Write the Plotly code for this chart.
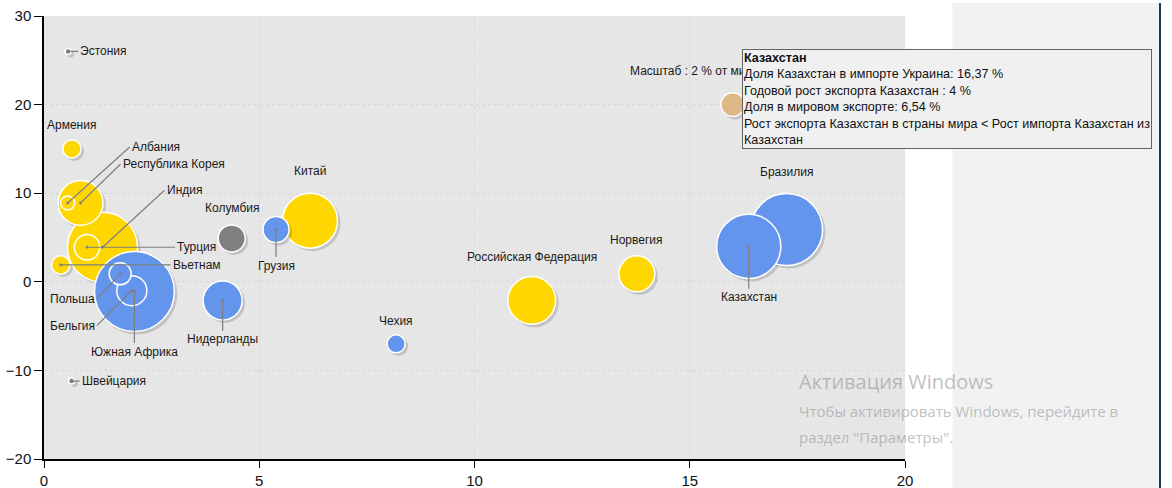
import plotly.graph_objects as go

# ---------------- data ----------------
countries = ["Эстония", "Армения", "Албания", "Республика Корея", "Индия", "Турция",
             "Вьетнам", "Польша", "Бельгия", "Южная Африка", "Колумбия", "Грузия",
             "Нидерланды", "Швейцария", "Китай", "Чехия", "Российская Федерация",
             "Норвегия", "Бразилия", "Казахстан"]
import_share = [0.56, 0.65, 0.55, 0.85, 1.36, 1.00, 0.39, 1.77, 2.04, 2.10, 4.36, 5.39,
                4.15, 0.64, 6.18, 8.18, 11.33, 13.77, 17.25, 16.37]
export_growth = [26.0, 15.0, 8.9, 8.9, 3.9, 3.9, 1.9, 0.9, -1.0, -1.1, 4.9, 5.9,
                 -2.1, -11.2, 6.9, -7.0, -2.1, 0.9, 5.9, 4.0]
world_share = [0.01, 1.35, 0.90, 4.36, 7.20, 2.18, 1.39, 1.80, 2.70, 8.30, 2.36, 2.25,
               3.70, 0.01, 5.50, 1.35, 4.70, 3.37, 7.40, 6.54]
group = ["g", "y", "y", "y", "y", "y", "y", "b", "b", "b", "g", "b",
         "b", "g", "y", "b", "y", "y", "b", "b"]

scale_x, scale_y, scale_value = 16.0, 20.0, 2.0
scale_label = "Масштаб : 2 % от мирового экспорта"

x_ticks = [0, 5, 10, 15, 20]
y_ticks = [-20, -10, 0, 10, 20, 30]

tooltip_lines = ["<b>Казахстан</b>",
                 "Доля Казахстан в импорте Украина: 16,37 %",
                 "Годовой рост экспорта Казахстан : 4 %",
                 "Доля в мировом экспорте: 6,54 %",
                 "Рост экспорта Казахстан в страны мира &lt; Рост импорта Казахстан из",
                 "Казахстан"]

# ---------------- styles ----------------
colors = {"y": "#FFD700", "b": "#6495ED", "g": "#808080"}
FONT = "Liberation Sans, Arial, sans-serif"
L, R_PX, T, B = 44, 905, 16, 459          # plot area in pixels
PW, PH = R_PX - L, B - T
X_RANGE, Y_RANGE = (0, 20), (-20, 30)
# drop-shadow offset (pixels converted to data units)
SH_DX = 2.5 * (X_RANGE[1] - X_RANGE[0]) / PW
SH_DY = -2.5 * (Y_RANGE[1] - Y_RANGE[0]) / PH


def px_x(p):
    return (p - L) / PW


def px_y(p):
    return (B - p) / PH


def bubble_diam(v):
    return 2 * (3 + 4.45 * v)


# label placement: (ax, ay, xanchor) for leader-line labels, or ("shift", yshift)
label_style = {
    "Эстония": (10, 0, "left"),
    "Армения": ("shift", 24),
    "Албания": (62, -56, "left"),
    "Республика Корея": (40, -39, "left"),
    "Индия": (62, -57, "left"),
    "Турция": (88, 0, "left"),
    "Вьетнам": (110, 0, "left"),
    "Польша": (-23, 25, "right"),
    "Бельгия": (-35, 35, "right"),
    "Южная Африка": (0, 60, "center"),
    "Колумбия": ("shift", 30),
    "Грузия": (0, 36, "center"),
    "Нидерланды": (0, 39, "center"),
    "Швейцария": (8, 0, "left"),
    "Китай": ("shift", 50),
    "Чехия": ("shift", 23),
    "Российская Федерация": ("shift", 43),
    "Норвегия": ("shift", 34),
    "Бразилия": ("shift", 58),
    "Казахстан": (0, 51, "center"),
}

fig = go.Figure()


def add_bubbles(xs, ys, sizes, color):
    fig.add_trace(go.Scatter(
        x=[v + SH_DX for v in xs], y=[v + SH_DY for v in ys], mode="markers",
        marker=dict(size=[bubble_diam(s) + 1 for s in sizes], sizemode="diameter",
                    color="rgba(0,0,0,0.22)", line=dict(width=0)),
        showlegend=False, hoverinfo="skip", cliponaxis=False))
    fig.add_trace(go.Scatter(
        x=xs, y=ys, mode="markers",
        marker=dict(size=[bubble_diam(s) for s in sizes], sizemode="diameter",
                    color=color, opacity=1, line=dict(color="white", width=1.5)),
        showlegend=False, hoverinfo="skip", cliponaxis=False))


for g in ["y", "b", "g"]:
    idx = [i for i in range(len(countries)) if group[i] == g]
    idx.sort(key=lambda i: -world_share[i])
    add_bubbles([import_share[i] for i in idx], [export_growth[i] for i in idx],
                [world_share[i] for i in idx], colors[g])

# scale bubble
add_bubbles([scale_x], [scale_y], [scale_value], "#DEB887")

annotations = []
for i, name in enumerate(countries):
    st = label_style[name]
    if st[0] == "shift":
        annotations.append(dict(x=import_share[i], y=export_growth[i], xref="x", yref="y",
                                text=name, showarrow=False, yshift=st[1],
                                font=dict(family=FONT, size=12, color="#1a1a1a")))
    else:
        ax, ay, xa = st
        annotations.append(dict(x=import_share[i], y=export_growth[i], xref="x", yref="y",
                                text=name, showarrow=True, ax=ax, ay=ay, xanchor=xa,
                                yanchor="middle", arrowhead=6, arrowsize=0.6,
                                arrowwidth=1.2, arrowcolor="#7f7f7f", standoff=0,
                                font=dict(family=FONT, size=12, color="#1a1a1a")))

annotations.append(dict(x=scale_x, y=scale_y, xref="x", yref="y", text=scale_label,
                        showarrow=False, yshift=34,
                        font=dict(family=FONT, size=12, color="#1a1a1a")))

# tooltip box
annotations.append(dict(x=px_x(742), y=px_y(49), xref="paper", yref="paper",
                        xanchor="left", yanchor="top", align="left",
                        text="<br>".join(tooltip_lines), showarrow=False,
                        bgcolor="#f0f0f0", bordercolor="#646464", borderwidth=1,
                        borderpad=1,
                        font=dict(family=FONT, size=12.6, color="#111111")))

# Windows watermark
wm = [("Активация Windows", 381, 20), ("Чтобы активировать Windows, перейдите в", 411, 15),
      ("раздел \"Параметры\".", 437, 15)]
for t, ypx, fs in wm:
    annotations.append(dict(x=px_x(797), y=px_y(ypx), xref="paper",
                            yref="paper", xanchor="left", yanchor="middle", text=t,
                            showarrow=False,
                            font=dict(family="Open Sans, Noto Sans, sans-serif", size=fs,
                                      color="rgba(150,150,150,0.6)")))

shapes = [
    dict(type="rect", xref="paper", yref="paper", x0=px_x(952.5), x1=px_x(1159),
         y0=px_y(490), y1=px_y(3), fillcolor="#f2f2f2", line=dict(width=0), layer="below"),
    dict(type="line", xref="paper", yref="paper", x0=px_x(1160), x1=px_x(1160),
         y0=px_y(490), y1=px_y(3), line=dict(color="#1b3a5c", width=2)),
]

fig.update_layout(
    width=1172, height=488,
    margin=dict(l=L, r=1172 - R_PX, t=T, b=488 - B, autoexpand=False),
    paper_bgcolor="white", plot_bgcolor="#e6e6e6",
    annotations=annotations, shapes=shapes, hovermode=False,
    font=dict(family=FONT),
)
axis_common = dict(showgrid=True, gridcolor="#d6d6d6", griddash="dot", gridwidth=1,
                   zeroline=False, showline=True, linecolor="black", linewidth=1.5,
                   ticks="outside", tickcolor="black", automargin=False,
                   tickfont=dict(family="Liberation Sans Narrow, " + FONT, size=15,
                                 color="#111"))
fig.update_xaxes(range=list(X_RANGE), tickvals=x_ticks, ticklen=7, **axis_common)
fig.update_yaxes(range=list(Y_RANGE), tickvals=y_ticks, ticklen=8, **axis_common)

fig.write_html("out.html", config={"displayModeBar": False},
               post_script="document.body.style.margin='0';"
                           "document.body.style.overflow='hidden';")
